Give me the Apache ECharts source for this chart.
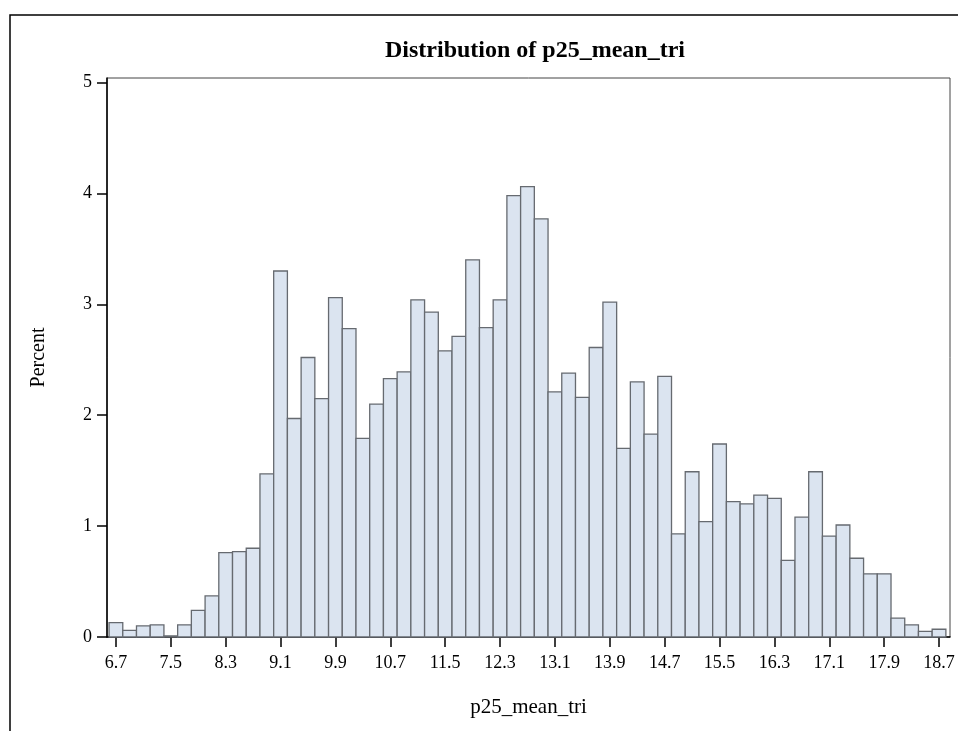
<!DOCTYPE html>
<html>
<head>
<meta charset="utf-8">
<script src="https://cdn.jsdelivr.net/npm/echarts@6/dist/echarts.min.js"></script>
<style>html,body{margin:0;padding:0;background:#fff}#chart{width:958px;height:731px}</style>
</head>
<body>
<div id="chart"></div>
<script>
// Bin midpoints (width 0.2)
const binMids = [6.7,6.9,7.1,7.3,7.5,7.7,7.9,8.1,8.3,8.5,8.7,8.9,9.1,9.3,9.5,9.7,9.9,10.1,10.3,10.5,10.7,10.9,11.1,11.3,11.5,11.7,11.9,12.1,12.3,12.5,12.7,12.9,13.1,13.3,13.5,13.7,13.9,14.1,14.3,14.5,14.7,14.9,15.1,15.3,15.5,15.7,15.9,16.1,16.3,16.5,16.7,16.9,17.1,17.3,17.5,17.7,17.9,18.1,18.3,18.5,18.7];
const percents = [0.13,0.06,0.10,0.11,0.01,0.11,0.24,0.37,0.76,0.77,0.80,1.47,3.30,1.97,2.52,2.15,3.06,2.78,1.79,2.10,2.33,2.39,3.04,2.93,2.58,2.71,3.40,2.79,3.04,3.98,4.06,3.77,2.21,2.38,2.16,2.61,3.02,1.70,2.30,1.83,2.35,0.93,1.49,1.04,1.74,1.22,1.20,1.28,1.25,0.69,1.08,1.49,0.91,1.01,0.71,0.57,0.57,0.17,0.11,0.05,0.07];
const xTicks = [6.7,7.5,8.3,9.1,9.9,10.7,11.5,12.3,13.1,13.9,14.7,15.5,16.3,17.1,17.9,18.7];
const yTicks = [0,1,2,3,4,5];
const binWidth = 0.2;

const data = binMids.map((m, i) => [m, percents[i]]);
const serif = '"Liberation Serif","DejaVu Serif",serif';

const chart = echarts.init(document.getElementById('chart'));
chart.setOption({
  animation: false,
  backgroundColor: '#fff',
  title: {
    text: 'Distribution of p25_mean_tri',
    left: 530, top: 34, textAlign: 'center',
    textStyle: {fontFamily: serif, fontWeight: 'bold', fontSize: 24, color: '#000'}
  },
  graphic: [{
    type: 'rect', shape: {x: 10, y: 15, width: 1000, height: 800},
    style: {fill: 'none', stroke: '#000', lineWidth: 1.5}, silent: true
  }],
  grid: {left: 107, right: 8, top: 78, bottom: 94, show: true, borderColor: '#444', borderWidth: 1},
  xAxis: {
    type: 'value', min: 6.57, max: 18.86,
    name: 'p25_mean_tri', nameLocation: 'middle', nameGap: 60,
    nameTextStyle: {fontFamily: serif, fontSize: 21, color: '#000'},
    axisLine: {show: true, lineStyle: {color: '#000', width: 1.5}},
    axisTick: {show: true, length: 10, customValues: xTicks, lineStyle: {color: '#000', width: 1.5}},
    axisLabel: {customValues: xTicks, fontFamily: serif, fontSize: 18, color: '#000', margin: 17,
      formatter: v => v.toFixed(1)},
    splitLine: {show: false}
  },
  yAxis: {
    type: 'value', min: 0, max: 5.04,
    name: 'Percent', nameLocation: 'middle', nameGap: 58, nameRotate: 90,
    nameTextStyle: {fontFamily: serif, fontSize: 20, color: '#000'},
    axisLine: {show: true, lineStyle: {color: '#000', width: 1.5}},
    axisTick: {show: true, length: 10, customValues: yTicks, lineStyle: {color: '#000', width: 1.5}},
    axisLabel: {customValues: yTicks, fontFamily: serif, fontSize: 18, color: '#000', margin: 15},
    splitLine: {show: false}
  },
  series: [{
    type: 'custom',
    data: data,
    renderItem: function (params, api) {
      const m = api.value(0), v = api.value(1);
      const p0 = api.coord([m - binWidth / 2, v]);
      const p1 = api.coord([m + binWidth / 2, 0]);
      return {
        type: 'rect',
        shape: {x: p0[0], y: p0[1], width: p1[0] - p0[0], height: p1[1] - p0[1]},
        style: {fill: '#dbe4f0', stroke: '#666a70', lineWidth: 1.3}
      };
    }
  }]
});
</script>
</body>
</html>
